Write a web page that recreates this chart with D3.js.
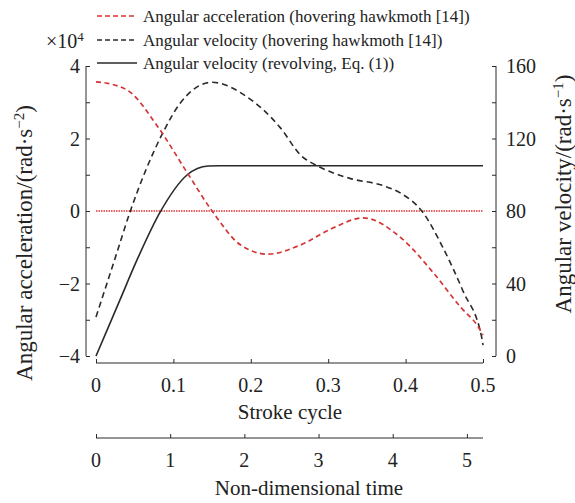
<!DOCTYPE html>
<html>
<head>
<meta charset="utf-8">
<script src="https://cdn.jsdelivr.net/npm/d3@7"></script>
<style>
  body { margin: 0; background: #fff; }
</style>
</head>
<body>
<div id="chart"></div>
<script>
const width = 575
const height = 503
const margin = { left: 96, right: 483, top: 66, bottom: 356 }

// stroke cycle positions and values
const accStroke = [0, 0.02, 0.044, 0.08, 0.118, 0.15, 0.187, 0.222, 0.264, 0.306, 0.345, 0.393, 0.436, 0.471, 0.494, 0.5]
const accValues = [3.56, 3.5, 3.28, 2.32, 1.05, 0, -0.94, -1.19, -0.94, -0.47, -0.19, -0.72, -1.71, -2.65, -3.2, -3.42]
const velStroke = [0, 0.024, 0.044, 0.085, 0.109, 0.15, 0.195, 0.238, 0.264, 0.289, 0.328, 0.371, 0.393, 0.422, 0.448, 0.474, 0.499, 0.5]
const velValues = [21.5, 53, 79.5, 122, 139.6, 151, 143, 126, 111, 104.3, 98, 94, 90, 79.4, 60, 36, 8.8, 6]
const revStroke = [0, 0.03, 0.053, 0.083, 0.118, 0.145, 0.16, 0.5]
const revValues = [0, 30, 53, 79.5, 100, 104.8, 105, 105]
const legendLabels = [
  "Angular acceleration (hovering hawkmoth [14])",
  "Angular velocity (hovering hawkmoth [14])",
  "Angular velocity (revolving, Eq. (1))"
]
const accTicks = [-4, -3, -2, -1, 0, 1, 2, 3, 4]
const velTicks = [0, 20, 40, 60, 80, 100, 120, 140, 160]
const strokeTicks = [0, 0.1, 0.2, 0.3, 0.4, 0.5]
const timeTicks = [0, 1, 2, 3, 4, 5]

const red = "#d63434"
const dark = "#2a2a2a"
const serif = "\"Liberation Serif\""

var x = d3.scaleLinear([0, 0.5], [margin.left, margin.right])
var xTime = d3.scaleLinear([0, 5.217], [margin.left, margin.right])
var yAcc = d3.scaleLinear([-4, 4], [margin.bottom, margin.top])
var yVel = d3.scaleLinear([0, 160], [margin.bottom, margin.top])

var svg = d3.select("#chart").append("svg")
  .attr("width", width).attr("height", height)

function label(g, size) {
  return g.append("text")
    .style("font-family", serif)
    .style("font-size", size + "px")
    .style("fill", "#222")
}

// Left axis
var leftAxis = svg.append("g")
  .attr("transform", `translate(86,0)`)
  .call(d3.axisRight(yAcc).tickValues(accTicks).tickSize(4).tickFormat(""))
leftAxis.select(".domain").attr("d", `M0,${margin.top}V${margin.bottom}`)
leftAxis.selectAll("line,path").attr("stroke", dark)
accTicks.filter(d => d % 2 === 0).forEach(d => {
  label(svg, 20).attr("x", 80).attr("y", yAcc(d)).attr("dy", "0.35em")
    .attr("text-anchor", "end")
    .text(d < 0 ? "\u2212" + Math.abs(d) : d)
})

// Right axis
var rightAxis = svg.append("g")
  .attr("transform", `translate(496,0)`)
  .call(d3.axisLeft(yVel).tickValues(velTicks).tickSize(4).tickFormat(""))
rightAxis.select(".domain").attr("d", `M0,${margin.top}V${margin.bottom}`)
rightAxis.selectAll("line,path").attr("stroke", dark)
velTicks.filter(d => d % 40 === 0).forEach(d => {
  label(svg, 20).attr("x", 506).attr("y", yVel(d)).attr("dy", "0.35em").text(d)
})

// Bottom axes
function bottomAxis(scale, ticks, y, fmt) {
  var g = svg.append("g").attr("transform", `translate(0,${y})`)
    .call(d3.axisTop(scale).tickValues(ticks).tickSize(4).tickFormat(""))
  g.select(".domain").attr("d", `M${margin.left},0H${margin.right}`)
  g.selectAll("line,path").attr("stroke", dark)
  ticks.forEach(d => {
    label(svg, 20).attr("x", scale(d)).attr("y", y + 22)
      .attr("dy", "0.35em").attr("text-anchor", "middle").text(fmt(d))
  })
}
bottomAxis(x, strokeTicks, 363, d => d === 0 ? "0" : d3.format(".1f")(d))
bottomAxis(xTime, timeTicks, 438, d => d)

label(svg, 21).attr("x", 290).attr("y", 412).attr("dy", "0.35em")
  .attr("text-anchor", "middle").text("Stroke cycle")
label(svg, 21).attr("x", 309).attr("y", 488).attr("dy", "0.35em")
  .attr("text-anchor", "middle").text("Non-dimensional time")

// Axis titles
var lt = label(svg, 23)
  .attr("transform", "translate(24,243) rotate(-90)")
  .attr("dy", "0.35em").attr("text-anchor", "middle")
lt.append("tspan").text("Angular acceleration/(rad\u00b7s")
lt.append("tspan").attr("baseline-shift", "super").style("font-size", "15px").text("\u22122")
lt.append("tspan").text(")")

var rt = label(svg, 23)
  .attr("transform", "translate(563,194) rotate(-90)")
  .attr("dy", "0.35em").attr("text-anchor", "middle")
rt.append("tspan").text("Angular velocity/(rad\u00b7s")
rt.append("tspan").attr("baseline-shift", "super").style("font-size", "15px").text("\u22121")
rt.append("tspan").text(")")

var mult = label(svg, 20).attr("x", 46).attr("y", 41).attr("dy", "0.35em")
mult.append("tspan").text("\u00d710")
mult.append("tspan").attr("baseline-shift", "super").style("font-size", "13px").text("4")

// Zero line
svg.append("line")
  .attr("x1", x(0)).attr("x2", x(0.5))
  .attr("y1", yAcc(0)).attr("y2", yAcc(0))
  .attr("stroke", red).attr("stroke-width", 1.3).attr("stroke-dasharray", "1.5,1")

// Curves
var accLine = d3.line().x(d => x(d[0])).y(d => yAcc(d[1])).curve(d3.curveMonotoneX)
var velLine = d3.line().x(d => x(d[0])).y(d => yVel(d[1])).curve(d3.curveMonotoneX)

svg.append("path").datum(d3.zip(revStroke, revValues))
  .attr("d", velLine).attr("fill", "none").attr("stroke", dark).attr("stroke-width", 1.6)
svg.append("path").datum(d3.zip(velStroke, velValues))
  .attr("d", velLine).attr("fill", "none").attr("stroke", dark)
  .attr("stroke-width", 1.6).attr("stroke-dasharray", "6,4")
svg.append("path").datum(d3.zip(accStroke, accValues))
  .attr("d", accLine).attr("fill", "none").attr("stroke", red)
  .attr("stroke-width", 1.7).attr("stroke-dasharray", "5,3.5")

// Legend
var legendY = [16, 40, 63]
var legendStyles = [
  { color: red, dash: "5,3" },
  { color: dark, dash: "5,3" },
  { color: dark, dash: null }
]
legendLabels.forEach((d, i) => {
  var g = svg.append("g").attr("transform", `translate(0,${legendY[i]})`)
  g.append("line")
    .attr("x1", 97).attr("x2", 137)
    .attr("stroke", legendStyles[i].color)
    .attr("stroke-width", 1.5)
    .attr("stroke-dasharray", legendStyles[i].dash)
  label(g, 17).attr("x", 143).attr("dy", "0.35em").text(d)
})
</script>
</body>
</html>
